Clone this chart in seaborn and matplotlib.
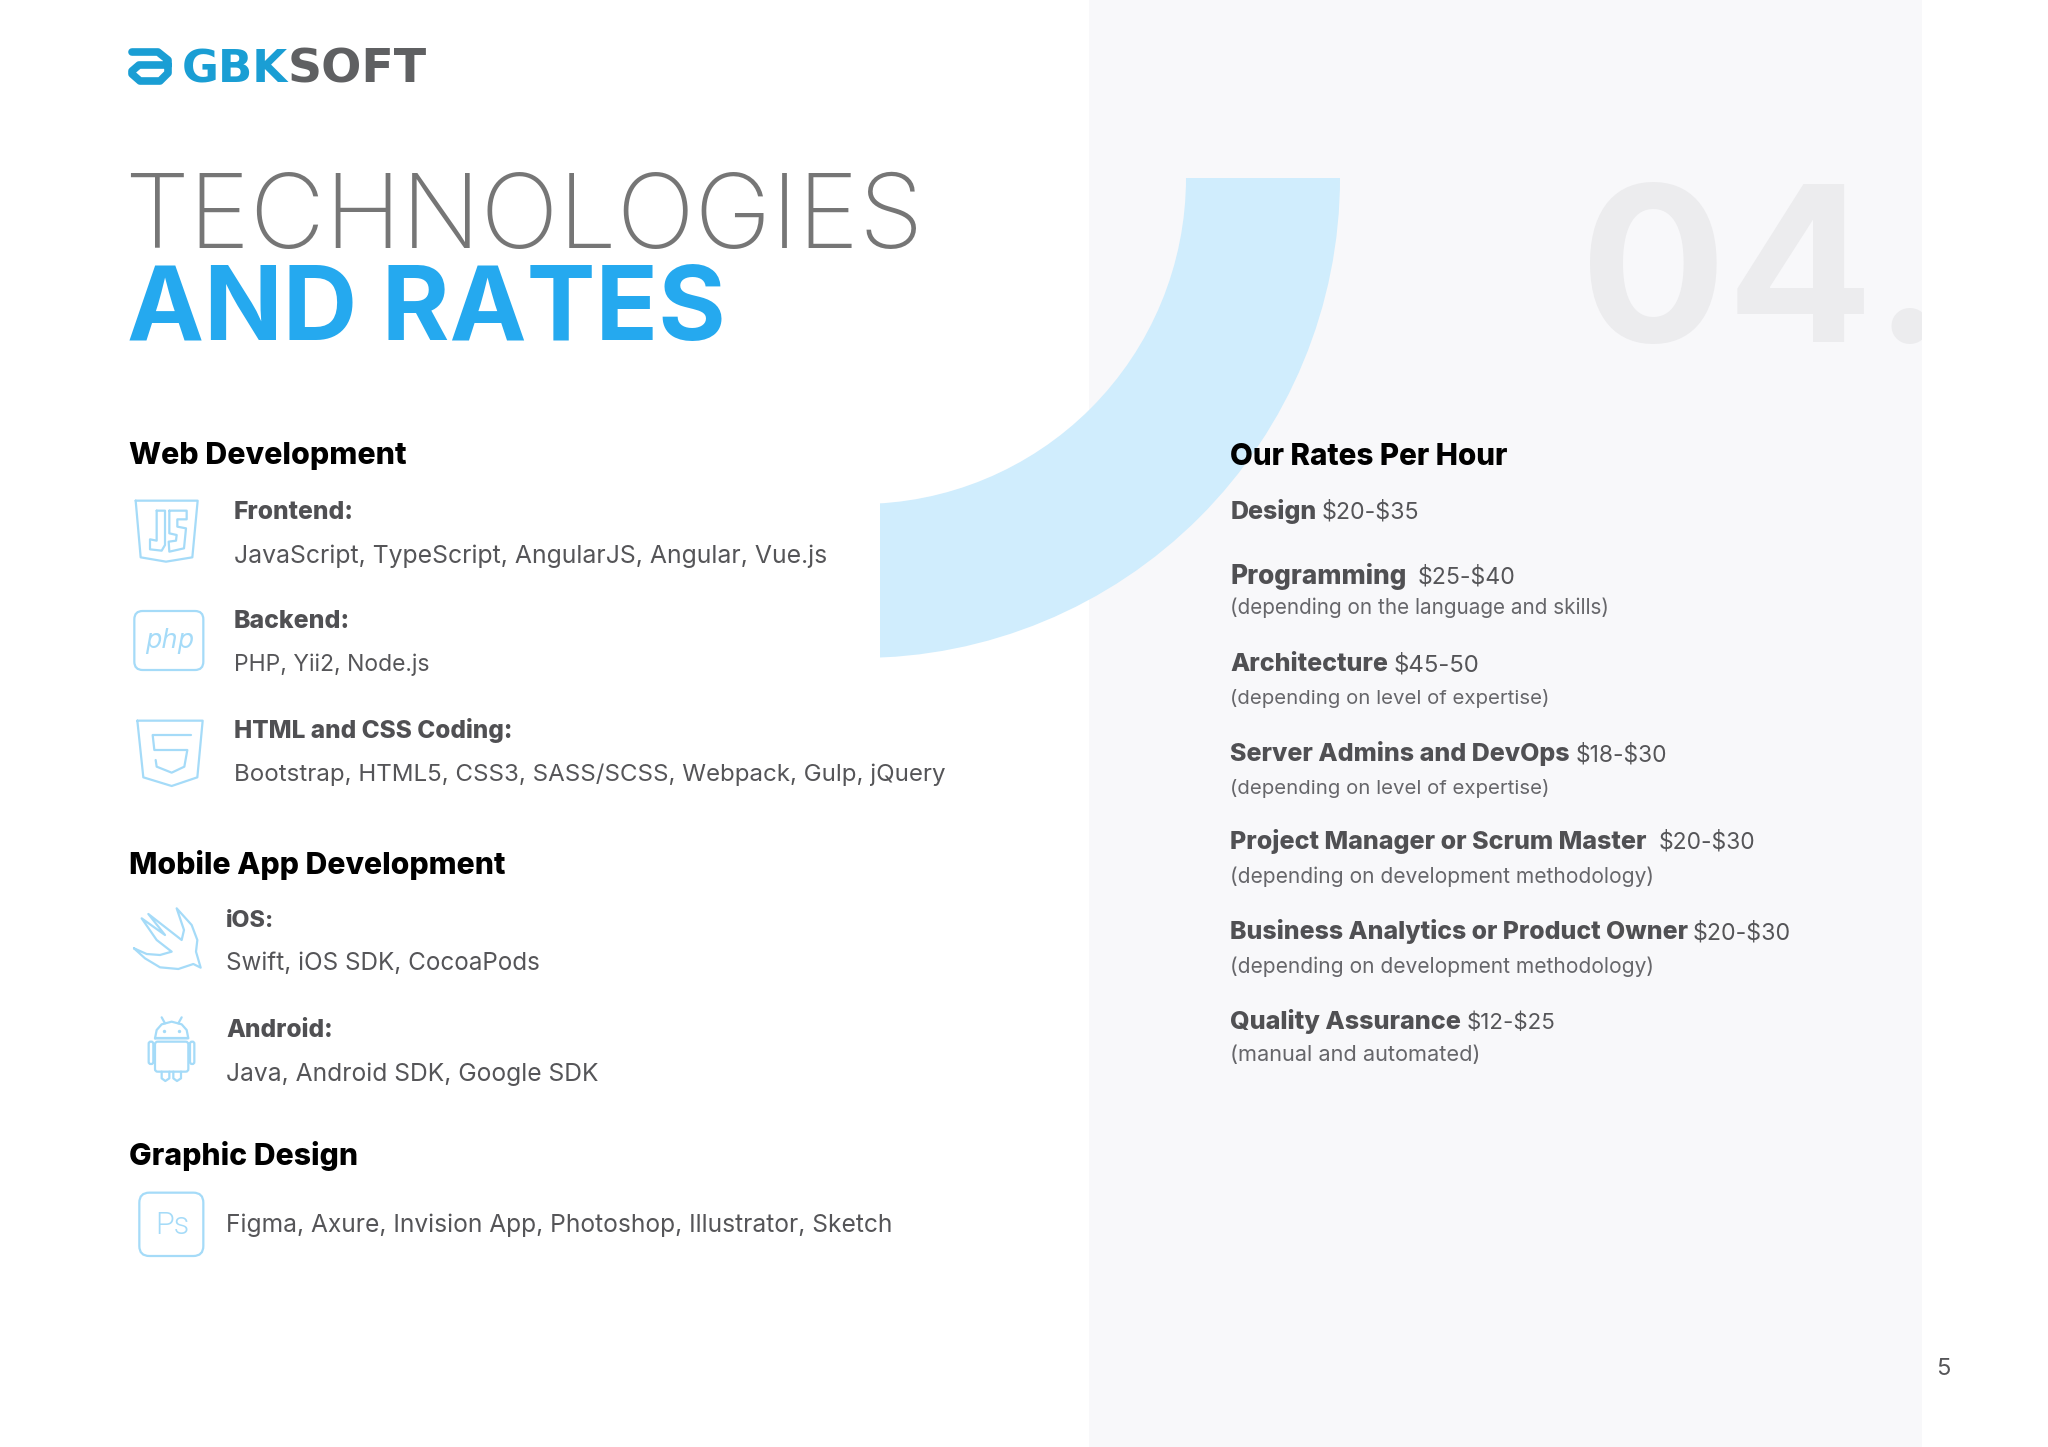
import matplotlib
matplotlib.use("Agg")
import matplotlib.pyplot as plt
from matplotlib.patches import Rectangle, FancyBboxPatch, Wedge
import pandas as pd
import seaborn as sns

# reference was measured on a 1568 wide preview, everything below is in those units
S = 2048 / 1568
BODY = "Inter"

BLUE_ICON = "#a5dbf8"
GREY_BOLD = "#505053"
GREY_TEXT = "#555558"
GREY_NOTE = "#66666a"

title_lines = ["TECHNOLOGIES", "AND RATES"]
section_names = ["Web Development", "Mobile App Development", "Graphic Design"]
tech_heads = ["Frontend:", "Backend:", "HTML and CSS Coding:", "iOS:", "Android:"]
tech_lists = [
    "JavaScript, TypeScript, AngularJS, Angular, Vue.js",
    "PHP, Yii2, Node.js",
    "Bootstrap, HTML5, CSS3, SASS/SCSS, Webpack, Gulp, jQuery",
    "Swift, iOS SDK, CocoaPods",
    "Java, Android SDK, Google SDK",
    "Figma, Axure, Invision App, Photoshop, Illustrator, Sketch",
]
rate_roles = ["Design", "Programming", "Architecture", "Server Admins and DevOps",
              "Project Manager or Scrum Master", "Business Analytics or Product Owner",
              "Quality Assurance"]
rate_values = ["$20-$35", "$25-$40", "$45-50", "$18-$30", "$20-$30", "$20-$30", "$12-$25"]
rate_notes = [None, "(depending on the language and skills)", "(depending on level of expertise)",
              "(depending on level of expertise)", "(depending on development methodology)",
              "(depending on development methodology)", "(manual and automated)"]

# x left, x right, baseline
section_pos = [(99, 311, 355), (99, 387, 669), (99, 274, 892)]
head_pos = [(179, 271, 397), (179, 268, 481), (179, 392, 565), (173, 210, 710), (173, 255, 794)]
list_pos = [(179, 633, 431), (179, 329, 514), (179, 724, 598), (173, 413, 743), (173, 458, 828), (173, 683, 943)]
role_pos = [(942, 1008, 397), (942, 1077, 447), (942, 1063, 514), (942, 1202, 583),
            (942, 1262, 650), (942, 1292, 719), (942, 1119, 788)]
value_pos = [(1012, 1087), (1085, 1160), (1067, 1133), (1206, 1276), (1270, 1344), (1296, 1371), (1123, 1191)]
note_pos = [None, (942, 1232, 470), (942, 1186, 539), (942, 1186, 608), (942, 1266, 676), (942, 1266, 745), (942, 1134, 812)]

sns.set_theme(style="white")
plt.rcParams["font.family"] = [BODY, "DejaVu Sans"]

fig = plt.figure(figsize=(20.48, 14.47), dpi=100)
ax = fig.add_axes([0, 0, 1, 1])
ax.set_xlim(0, 2048)
ax.set_ylim(1447, 0)
ax.axis("off")
sns.despine(ax=ax, left=True, bottom=True)
renderer = fig.canvas.get_renderer()


def fit(x0, x1, y, s, **kw):
    # scale font so the string spans the measured width
    t = ax.text(x0 * S, y * S, s, va="baseline", ha="left", fontsize=20, parse_math=False, **kw)
    w = t.get_window_extent(renderer).width
    t.set_fontsize(20 * (x1 - x0) * S / w)
    return t


# backgrounds
panel = Rectangle((1089, 0), 833, 1447, fc="#f8f8fa", ec="none", zorder=0)
ax.add_patch(panel)
arc = Wedge((860, 178), 480, 0, 90, width=154, fc="#d0edfd", ec="none", zorder=1)
ax.add_patch(arc)
arc.set_clip_path(Rectangle((880, 178), 600, 600, transform=ax.transData))

big = fit(1210, 1490, 262, "04.", weight="bold", color="#ececee", zorder=1)
big.set_clip_on(True)
big.set_clip_path(panel)

# logo
LOGO = "#1a9ed4"
fit(139, 220, 63, "GBK", family="DejaVu Sans", weight="bold", color=LOGO)
fit(220, 326, 63, "SOFT", family="DejaVu Sans", weight="bold", color="#5f6062")
mark = pd.DataFrame({"x": [132, 158, 168, 168, 160, 140, 132, 132, 139, 168],
                     "y": [52, 52, 60, 73, 81, 81, 74, 71, 65, 65]})
sns.lineplot(data=mark, x="x", y="y", sort=False, estimator=None, color=LOGO, lw=5.5,
             ax=ax, legend=False, solid_capstyle="round", solid_joinstyle="round")

# title
fit(95, 706, 190, title_lines[0], weight=200, color="#767676")
fit(97, 556, 260, title_lines[1], weight="bold", color="#25a9ef")

# left column
for name, (x0, x1, y) in zip(section_names, section_pos):
    fit(x0, x1, y, name, weight=800, color="black")
for name, (x0, x1, y) in zip(tech_heads, head_pos):
    fit(x0, x1, y, name, weight=800, color=GREY_BOLD)
for name, (x0, x1, y) in zip(tech_lists, list_pos):
    fit(x0, x1, y, name, color=GREY_TEXT)

# right column
fit(942, 1155, 356, "Our Rates Per Hour", weight=800, color="black", zorder=3)
for role, val, (x0, x1, y), (vx0, vx1) in zip(rate_roles, rate_values, role_pos, value_pos):
    fit(x0, x1, y, role, weight=800, color=GREY_BOLD, zorder=3)
    fit(vx0, vx1, y, val, color=GREY_TEXT, zorder=3)
for note, pos in zip(rate_notes, note_pos):
    if note:
        fit(pos[0], pos[1], pos[2], note, color=GREY_NOTE, zorder=3)
fit(1482, 1493, 1053, "5", color=GREY_TEXT)


# icons, traced in 3x crops: (crop origin x, y)
def outline(origin, xs, ys, closed=True):
    xs = [origin[0] + v / 3 for v in xs]
    ys = [origin[1] + v / 3 for v in ys]
    if closed:
        xs, ys = xs + xs[:1], ys + ys[:1]
    sns.lineplot(x=xs, y=ys, sort=False, estimator=None, color=BLUE_ICON, lw=1.6, ax=ax, legend=False)


def round_box(origin, x0, y0, x1, y1, r):
    x0, x1 = origin[0] + x0 / 3, origin[0] + x1 / 3
    y0, y1 = origin[1] + y0 / 3, origin[1] + y1 / 3
    r = r / 3
    ax.add_patch(FancyBboxPatch((x0 + r, y0 + r), x1 - x0 - 2 * r, y1 - y0 - 2 * r,
                                boxstyle=f"round,pad={r}", fc="none", ec=BLUE_ICON, lw=1.6))


A = (110, 480)
B = (110, 890)
# js
outline(A, [77, 263, 247, 168, 92], [62, 62, 232, 245, 232])
outline(A, [140, 165, 165, 155, 120, 120, 140], [92, 92, 195, 212, 208, 178, 182])
outline(A, [178, 230, 230, 202, 202, 228, 222, 178, 176, 198, 200, 178],
        [92, 92, 118, 118, 140, 145, 205, 215, 185, 182, 165, 160])
# php
round_box(A, 73, 393, 280, 570, 25)
ax.text(110 + 178 / 3, 480 + 482 / 3, "php", family="DejaVu Sans", style="italic", color=BLUE_ICON,
        fontsize=18.5, ha="center", va="center")
# html5
outline(A, [82, 278, 262, 185, 100], [722, 722, 892, 918, 892])
outline(A, [243, 128, 133, 232, 223, 185, 140, 137], [765, 765, 810, 810, 860, 878, 860, 840], closed=False)
# swift
outline(B, [72, 110, 150, 185, 140, 95, 165, 115, 215, 222, 200, 245, 262, 258, 272, 250, 205, 150, 105],
        [175, 192, 195, 185, 150, 85, 135, 72, 150, 120, 55, 105, 150, 185, 233, 222, 237, 232, 205])
# android
outline(B, [135, 140, 155, 185, 215, 230, 235], [445, 420, 403, 395, 403, 420, 445])
outline(B, [135, 235], [445, 445], closed=False)
outline(B, [155, 165], [382, 400], closed=False)
outline(B, [215, 205], [382, 400], closed=False)
round_box(B, 135, 455, 235, 545, 8)
round_box(B, 116, 455, 130, 522, 6)
round_box(B, 240, 455, 253, 522, 6)
outline(B, [155, 155, 166, 178, 178], [545, 565, 573, 565, 545], closed=False)
outline(B, [190, 190, 201, 213, 213], [545, 565, 573, 565, 545], closed=False)
sns.scatterplot(x=[110 + 162 / 3, 110 + 207 / 3], y=[890 + 424 / 3, 890 + 424 / 3], color=BLUE_ICON, s=6,
                ax=ax, legend=False, linewidth=0)
# photoshop
round_box(B, 88, 908, 280, 1098, 30)
ax.text(110 + 186 / 3, 890 + 1006 / 3, "Ps", family="Roboto", weight=300, color=BLUE_ICON,
        fontsize=22, ha="center", va="center")

ax.set_xlim(0, 2048)
ax.set_ylim(1447, 0)
ax.axis("off")
fig.savefig("out.png", dpi=100)
